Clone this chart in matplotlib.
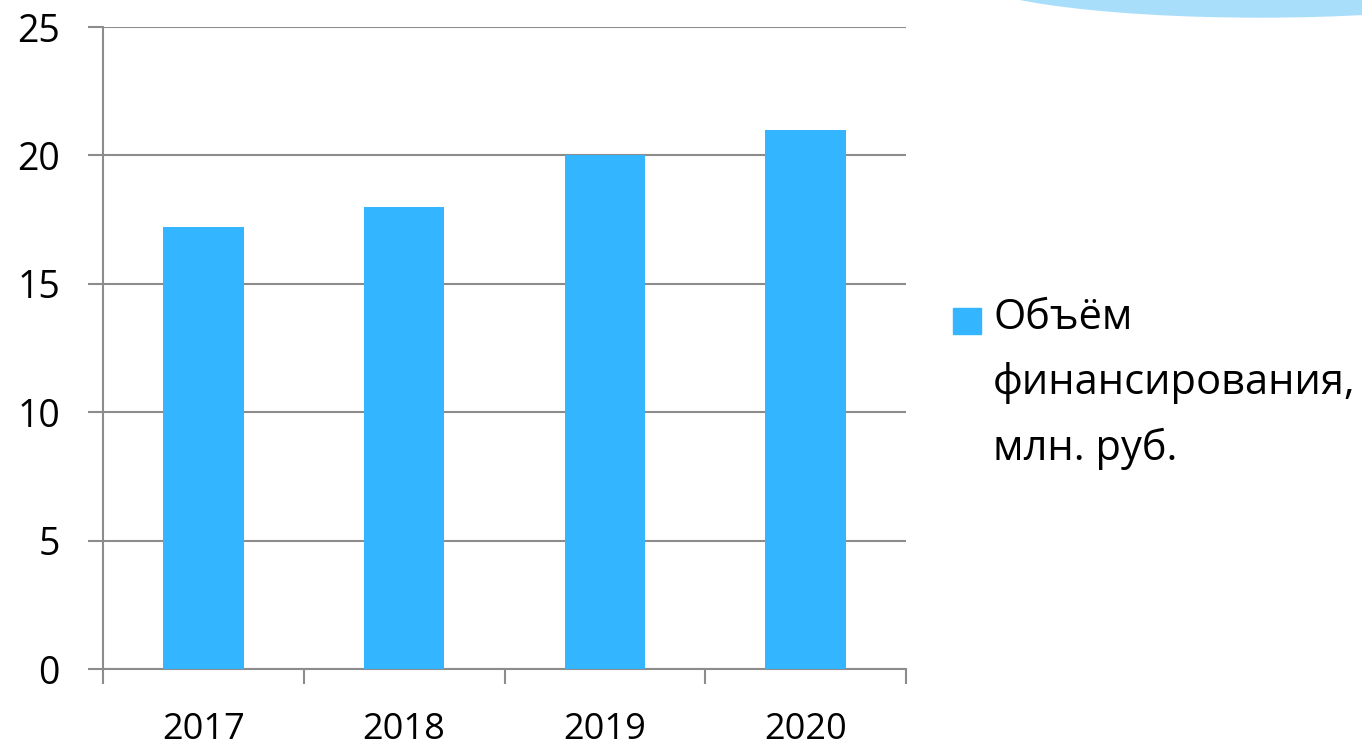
import matplotlib.pyplot as plt
from matplotlib.patches import Ellipse, Rectangle

plt.rcParams['font.family'] = ['Open Sans', 'DejaVu Sans']

years = ['2017', '2018', '2019', '2020']
funding = [17.2, 18.0, 20.0, 21.0]
series_name = 'Объём\nфинансирования,\nмлн. руб.'
y_ticks = [0, 5, 10, 15, 20, 25]

bar_color = '#33b6ff'
grid_color = '#8c8c8c'

fig = plt.figure(figsize=(13.62, 7.54), dpi=100)
ax = fig.add_axes([103 / 1362, 1 - 669 / 754, (906 - 103) / 1362, (669 - 27) / 754])

x = range(len(years))
ax.bar(x, funding, width=0.4, color=bar_color, zorder=3)

ax.set_xlim(-0.5, len(years) - 0.5)
ax.set_ylim(0, 25)
ax.set_yticks(y_ticks)
ax.set_yticklabels([str(t) for t in y_ticks], fontsize=27)
ax.yaxis.grid(True, color=grid_color, linewidth=1.5, zorder=0)
ax.tick_params(axis='y', length=11, width=1.5, color=grid_color, pad=20)

ax.set_xticks(list(x))
ax.set_xticklabels(years, fontsize=26)
ax.set_xticks([i - 0.5 for i in range(len(years) + 1)], minor=True)
ax.tick_params(axis='x', which='major', length=0, pad=31)
ax.tick_params(axis='x', which='minor', length=11, width=1.5, color=grid_color)

for s in ['top', 'right']:
    ax.spines[s].set_visible(False)
for s in ['left', 'bottom']:
    ax.spines[s].set_color(grid_color)
    ax.spines[s].set_linewidth(1.5)

# legend drawn by hand so the square sits at the first line
fig.add_artist(Rectangle((953 / 1362, 1 - 334 / 754), 28 / 1362, 26 / 754,
                         transform=fig.transFigure, color=bar_color))
fig.text(993 / 1362, 1 - 297 / 754, series_name, fontsize=30, va='top',
         ha='left', linespacing=1.73)

# decorative blob in the top right corner
fig.add_artist(Ellipse((1260 / 1362, 1 + 27 / 754), 600 / 1362, 88 / 754,
                       transform=fig.transFigure, color='#a9defb', zorder=0))

fig.savefig('out.png', dpi=100)
